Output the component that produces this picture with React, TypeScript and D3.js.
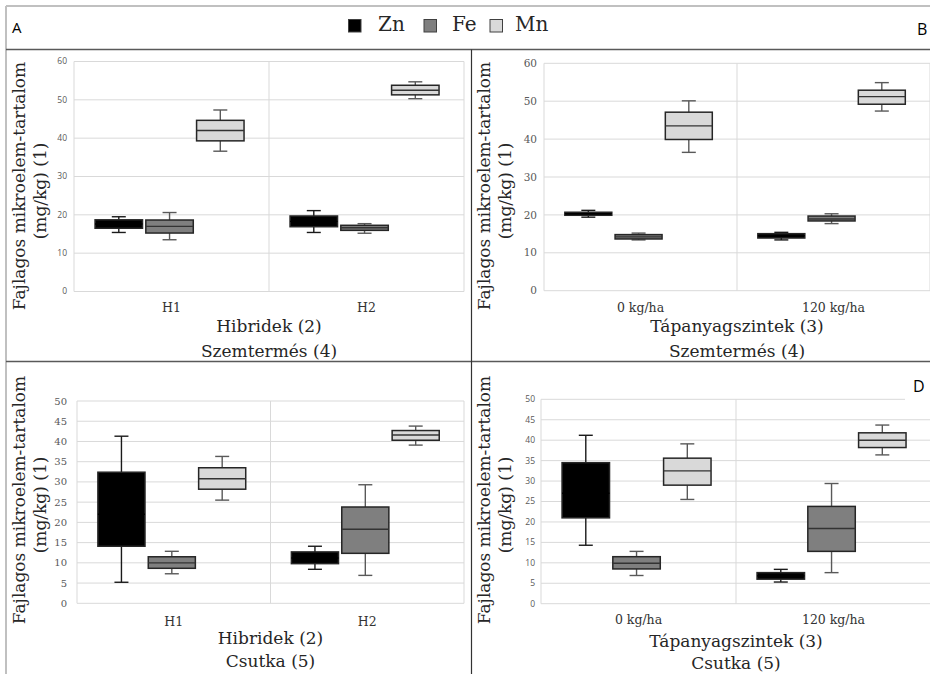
import React, { useRef, useEffect } from 'react';
import * as d3 from 'd3';

// series / legend
const series = ['Zn', 'Fe', 'Mn'];
const seriesFill = ['#000000', '#7f7f7f', '#d9d9d9'];
const whiskerColor = ['#1a1a1a', '#595959', '#595959'];

// categories
const hybrids = ['H1', 'H2'];
const nutrientLevels = ['0 kg/ha', '120 kg/ha'];

// tick values
const ticks60 = [0, 10, 20, 30, 40, 50, 60];
const ticks50 = [0, 5, 10, 15, 20, 25, 30, 35, 40, 45, 50];

// box stats: [min, q1, median, q3, max] per category
// A - grain, hybrids
const aZn = [[15.4, 16.5, 17.6, 18.7, 19.5], [15.4, 16.9, 18.3, 19.7, 21.1]];
const aFe = [[13.5, 15.25, 17.0, 18.65, 20.6], [15.2, 15.95, 16.65, 17.27, 17.7]];
const aMn = [[36.6, 39.3, 42.0, 44.65, 47.35], [50.3, 51.3, 52.5, 53.8, 54.7]];
// B - grain, nutrient levels
const bZn = [[19.4, 19.9, 20.3, 20.7, 21.2], [13.4, 13.9, 14.5, 15.05, 15.4]];
const bFe = [[13.4, 13.65, 14.2, 14.8, 15.2], [17.7, 18.4, 18.9, 19.7, 20.3]];
const bMn = [[36.5, 39.9, 43.5, 47.1, 50.1], [47.4, 49.2, 51.2, 52.9, 54.9]];
// C - cob, hybrids
const cZn = [[5.2, 14.1, 22.0, 32.4, 41.3], [8.4, 9.8, 11.2, 12.7, 14.1]];
const cFe = [[7.3, 8.65, 10.0, 11.5, 12.85], [6.9, 12.35, 18.3, 23.8, 29.3]];
const cMn = [[25.5, 28.2, 30.8, 33.5, 36.3], [39.1, 40.3, 41.6, 42.7, 43.8]];
// D - cob, nutrient levels
const dZn = [[14.3, 21.0, 27.0, 34.5, 41.2], [5.3, 6.0, 6.8, 7.6, 8.4]];
const dFe = [[6.9, 8.5, 9.9, 11.5, 12.8], [7.6, 12.8, 18.4, 23.8, 29.4]];
const dMn = [[25.5, 29.0, 32.5, 35.6, 39.1], [36.4, 38.2, 40.0, 41.8, 43.7]];

const yTitle1 = 'Fajlagos mikroelem-tartalom';
const yTitle2 = '(mg/kg) (1)';
const serif = '"DejaVu Serif", serif';
const sans = '"Open Sans", "Liberation Sans", sans-serif';

const panels = [
  { label: 'A', cats: hybrids, data: [aZn, aFe, aMn], ticks: ticks60, left: 74, right: 464, top: 61.5, bottom: 291.5,
    tickFont: sans, tickSize: 8.5, tickGap: 7, xTitle: 'Hibridek (2)', sub: 'Szemtermés (4)',
    catY: 311.5, titleY: 331.5, subY: 356.5, yTitleX: 25, yTitleY: 186 },
  { label: 'B', cats: nutrientLevels, data: [bZn, bFe, bMn], ticks: ticks60, left: 544, right: 930, top: 63.3, bottom: 290.7,
    tickFont: serif, tickSize: 10.5, tickGap: 7, xTitle: 'Tápanyagszintek (3)', sub: 'Szemtermés (4)',
    catY: 311.5, titleY: 331.5, subY: 356.5, yTitleX: 490, yTitleY: 186 },
  { label: 'C', cats: hybrids, data: [cZn, cFe, cMn], ticks: ticks50, left: 77, right: 464, top: 401, bottom: 603.3,
    tickFont: serif, tickSize: 10, tickGap: 10, xTitle: 'Hibridek (2)', sub: 'Csutka (5)',
    catY: 625.5, titleY: 644, subY: 666.5, yTitleX: 25, yTitleY: 500 },
  { label: 'D', cats: nutrientLevels, data: [dZn, dFe, dMn], ticks: ticks50, left: 541, right: 931, top: 399.3, bottom: 603.7,
    tickFont: sans, tickSize: 8.5, tickGap: 6, xTitle: 'Tápanyagszintek (3)', sub: 'Csutka (5)',
    catY: 624, titleY: 646.5, subY: 668.5, yTitleX: 490, yTitleY: 500 },
];

export default function App() {
  const svgRef = useRef<SVGSVGElement>(null);

  useEffect(() => {
    const svg = d3.select(svgRef.current);
    svg.selectAll('*').remove();

    svg.append('rect').attr('width', 930).attr('height', 674).attr('fill', '#fff');

    panels.forEach((p) => {
      const g = svg.append('g');
      const yMax = p.ticks[p.ticks.length - 1];
      const y = d3.scaleLinear().domain([0, yMax]).range([p.bottom, p.top]);
      const x0 = d3.scaleBand().domain(p.cats).range([p.left, p.right]).padding(0);
      const bw = x0.bandwidth();
      const x1 = d3.scaleBand().domain(series).range([bw * 0.108, bw * 0.872]).paddingInner(0.065);

      // horizontal grid
      g.selectAll('line.grid').data(p.ticks).join('line')
        .attr('x1', p.left).attr('x2', p.right)
        .attr('y1', d => y(d)).attr('y2', d => y(d))
        .attr('stroke', '#d9d9d9').attr('stroke-width', 1);

      // category separators
      const seps = [p.left, ...p.cats.map(c => (x0(c) as number) + bw)];
      g.selectAll('line.sep').data(seps).join('line')
        .attr('x1', d => d).attr('x2', d => d)
        .attr('y1', p.top).attr('y2', p.bottom)
        .attr('stroke', '#d9d9d9').attr('stroke-width', 1);

      // y tick labels
      g.selectAll('text.tick').data(p.ticks).join('text')
        .attr('x', p.left - p.tickGap).attr('y', d => y(d))
        .attr('dy', '0.35em').attr('text-anchor', 'end')
        .attr('font-family', p.tickFont).attr('font-size', p.tickSize)
        .attr('fill', '#595959')
        .text(d => d);

      // boxes
      series.forEach((s, si) => {
        p.data[si].forEach((st, ci) => {
          const [mn, q1, med, q3, mx] = st;
          const bx = (x0(p.cats[ci]) as number) + (x1(s) as number);
          const w = x1.bandwidth();
          const cx = bx + w / 2;
          const capW = 14;
          const wc = whiskerColor[si];
          g.append('line').attr('x1', cx).attr('x2', cx).attr('y1', y(mx)).attr('y2', y(q3))
            .attr('stroke', wc).attr('stroke-width', 1.4);
          g.append('line').attr('x1', cx).attr('x2', cx).attr('y1', y(q1)).attr('y2', y(mn))
            .attr('stroke', wc).attr('stroke-width', 1.4);
          g.append('line').attr('x1', cx - capW / 2).attr('x2', cx + capW / 2).attr('y1', y(mx)).attr('y2', y(mx))
            .attr('stroke', wc).attr('stroke-width', 1.4);
          g.append('line').attr('x1', cx - capW / 2).attr('x2', cx + capW / 2).attr('y1', y(mn)).attr('y2', y(mn))
            .attr('stroke', wc).attr('stroke-width', 1.4);
          g.append('rect').attr('x', bx).attr('y', y(q3)).attr('width', w).attr('height', y(q1) - y(q3))
            .attr('fill', seriesFill[si]).attr('stroke', '#262626').attr('stroke-width', 1.5);
          g.append('line').attr('x1', bx).attr('x2', bx + w).attr('y1', y(med)).attr('y2', y(med))
            .attr('stroke', si === 0 ? '#000' : '#333').attr('stroke-width', 1.4);
        });
      });

      // category labels
      g.selectAll('text.cat').data(p.cats).join('text')
        .attr('x', d => (x0(d) as number) + bw / 2).attr('y', p.catY)
        .attr('text-anchor', 'middle').attr('font-family', serif).attr('font-size', 12.5)
        .attr('fill', '#333').text(d => d);

      const midX = (p.left + p.right) / 2;
      g.append('text').attr('x', midX).attr('y', p.titleY).attr('text-anchor', 'middle')
        .attr('font-family', serif).attr('font-size', 17).attr('fill', '#262626').text(p.xTitle);
      g.append('text').attr('x', midX).attr('y', p.subY).attr('text-anchor', 'middle')
        .attr('font-family', serif).attr('font-size', 17).attr('fill', '#262626').text(p.sub);

      // y title (two lines)
      g.append('text').attr('transform', `translate(${p.yTitleX}, ${p.yTitleY}) rotate(-90)`)
        .attr('text-anchor', 'middle').attr('font-family', serif).attr('font-size', 17)
        .attr('fill', '#262626').text(yTitle1);
      g.append('text').attr('transform', `translate(${p.yTitleX + 21}, ${p.yTitleY + 5}) rotate(-90)`)
        .attr('text-anchor', 'middle').attr('font-family', serif).attr('font-size', 17)
        .attr('fill', '#262626').text(yTitle2);
    });

    // panel letters
    svg.append('text').attr('x', 12).attr('y', 33).attr('font-family', sans).attr('font-size', 15)
      .attr('fill', '#000').text('A');
    svg.append('text').attr('x', 917).attr('y', 35).attr('font-family', sans).attr('font-size', 16)
      .attr('fill', '#000').text('B');
    svg.append('rect').attr('x', 905).attr('y', 368).attr('width', 25).attr('height', 33).attr('fill', '#fff');
    svg.append('text').attr('x', 913).attr('y', 392).attr('font-family', sans).attr('font-size', 16)
      .attr('fill', '#000').text('D');

    // legend
    const legendX = [348.5, 424, 490];
    const legendTextX = [378, 452, 515];
    series.forEach((s, i) => {
      svg.append('rect').attr('x', legendX[i]).attr('y', 19.5).attr('width', 12.5).attr('height', 12.5)
        .attr('fill', seriesFill[i]).attr('stroke', '#404040').attr('stroke-width', 1);
      svg.append('text').attr('x', legendTextX[i]).attr('y', 30.5).attr('font-family', serif)
        .attr('font-size', 20).attr('fill', '#262626').text(s);
    });

    // frame lines
    svg.append('line').attr('x1', 6).attr('x2', 930).attr('y1', 6).attr('y2', 6)
      .attr('stroke', '#c0c0c0').attr('stroke-width', 2);
    svg.append('line').attr('x1', 6).attr('x2', 6).attr('y1', 6).attr('y2', 674)
      .attr('stroke', '#c0c0c0').attr('stroke-width', 2);
    svg.append('line').attr('x1', 6).attr('x2', 930).attr('y1', 49.5).attr('y2', 49.5)
      .attr('stroke', '#595959').attr('stroke-width', 1.5);
    svg.append('line').attr('x1', 6).attr('x2', 930).attr('y1', 361.5).attr('y2', 361.5)
      .attr('stroke', '#595959').attr('stroke-width', 1.5);
    svg.append('line').attr('x1', 471.5).attr('x2', 471.5).attr('y1', 49.5).attr('y2', 674)
      .attr('stroke', '#333').attr('stroke-width', 1.2);
  }, []);

  return (
    <div className="App">
      <svg ref={svgRef} width={930} height={674}
        style={{ position: 'absolute', left: 0, top: 0, display: 'block' }}></svg>
    </div>
  );
}
